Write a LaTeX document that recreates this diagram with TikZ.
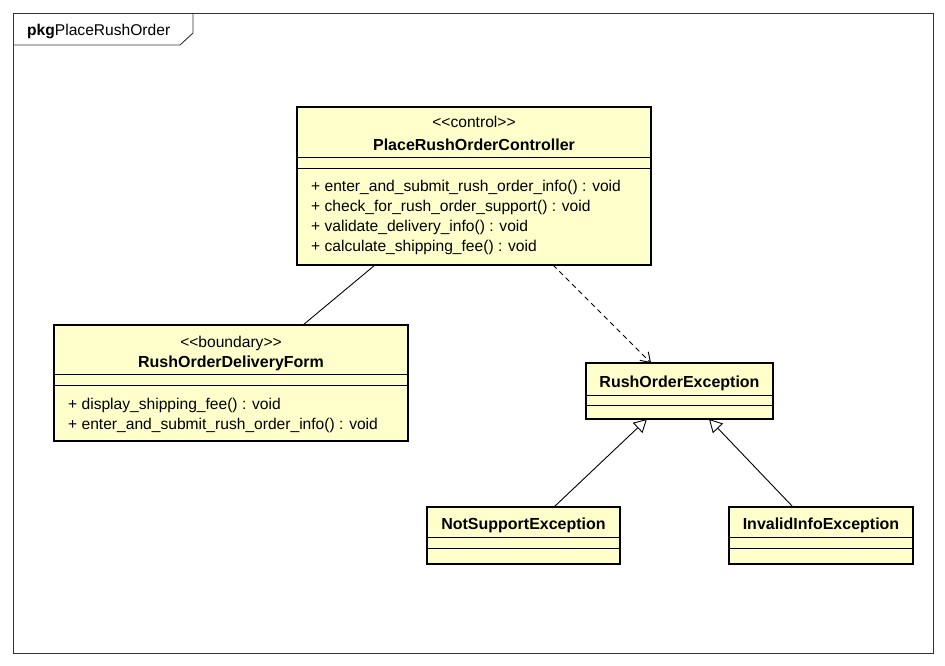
\documentclass[tikz,border=0pt]{standalone}
\usepackage{fontspec}
\setmainfont{Liberation Sans}
\usetikzlibrary{arrows.meta}
\definecolor{classfill}{HTML}{FFFFCC}
\definecolor{framecol}{HTML}{333333}
% guillemet-free stereotype brackets
\newcommand\stereo[1]{<\kern0pt<#1>\kern0pt>}

\begin{document}
\begin{tikzpicture}[x=1pt,y=-1pt,
  classbox/.style={draw=black, line width=2.9pt, fill=classfill, anchor=north west,
                   inner sep=0pt, outer sep=0pt},
  sepline/.style={line width=0.9pt},
  lbl/.style={inner sep=0pt, font=\fontsize{15.6}{18}\selectfont},
  classname/.style={inner sep=0pt, font=\fontsize{16}{19}\selectfont\bfseries, anchor=base},
  stereotype/.style={lbl, anchor=base},
  member/.style={lbl, anchor=base west},
  conn/.style={line width=0.9pt},
  assoc/.style={conn},
  depend/.style={conn, dash pattern=on 5pt off 4pt, -{Straight Barb[length=9pt,width=12pt]}},
  general/.style={conn, -{Triangle[open, fill=white, length=13pt, width=14pt]}},
]
\useasboundingbox (0,0) rectangle (945,666);

% package frame and its name tab
\draw[framecol, line width=0.9pt] (13,13) rectangle (933,653);
\draw[framecol, line width=0.9pt] (13,45) -- (180,45) -- (193,33) -- (193,13);
\node[lbl, anchor=base west] (pkg) at (27,36) {\textbf{pkg}PlaceRushOrder};

% control class
\node[classbox, minimum width=354pt, minimum height=158pt] (ctrl) at (297,107) {};
\draw[sepline] ([yshift=-50pt]ctrl.north west) -- ([yshift=-50pt]ctrl.north east);
\draw[sepline] ([yshift=-61pt]ctrl.north west) -- ([yshift=-61pt]ctrl.north east);
\node[stereotype] (ctrl-st) at (474,128) {\stereo{control}};
\node[classname] (ctrl-name) at (474,150) {PlaceRushOrderController};
\node[member] (ctrl-m1) at (311,191) {+ enter\_and\_submit\_rush\_order\_info() : void};
\node[member] (ctrl-m2) at (311,211) {+ check\_for\_rush\_order\_support() : void};
\node[member] (ctrl-m3) at (311,231) {+ validate\_delivery\_info() : void};
\node[member] (ctrl-m4) at (311,251) {+ calculate\_shipping\_fee() : void};

% boundary class
\node[classbox, minimum width=354pt, minimum height=116pt] (form) at (54,325) {};
\draw[sepline] ([yshift=-49pt]form.north west) -- ([yshift=-49pt]form.north east);
\draw[sepline] ([yshift=-60pt]form.north west) -- ([yshift=-60pt]form.north east);
\node[stereotype] (form-st) at (231,347) {\stereo{boundary}};
\node[classname] (form-name) at (231,367) {RushOrderDeliveryForm};
\node[member] (form-m1) at (68,409) {+ display\_shipping\_fee() : void};
\node[member] (form-m2) at (68,429) {+ enter\_and\_submit\_rush\_order\_info() : void};

% exception classes
\node[classbox, minimum width=187pt, minimum height=56pt] (roe) at (586,363) {};
\draw[sepline] ([yshift=-32pt]roe.north west) -- ([yshift=-32pt]roe.north east);
\draw[sepline] ([yshift=-42pt]roe.north west) -- ([yshift=-42pt]roe.north east);
\node[classname] (roe-name) at (679.5,387) {RushOrderException};

\node[classbox, minimum width=193pt, minimum height=57pt] (nse) at (427,507) {};
\draw[sepline] ([yshift=-30pt]nse.north west) -- ([yshift=-30pt]nse.north east);
\draw[sepline] ([yshift=-41pt]nse.north west) -- ([yshift=-41pt]nse.north east);
\node[classname] (nse-name) at (523.5,529) {NotSupportException};

\node[classbox, minimum width=184pt, minimum height=57pt] (iie) at (729,507) {};
\draw[sepline] ([yshift=-30pt]iie.north west) -- ([yshift=-30pt]iie.north east);
\draw[sepline] ([yshift=-41pt]iie.north west) -- ([yshift=-41pt]iie.north east);
\node[classname] (iie-name) at (821,529) {InvalidInfoException};

% relations
\draw[assoc] ([xshift=78pt]ctrl.south west) -- ([xshift=249pt]form.north west);
\draw[depend] ([xshift=256pt]ctrl.south west) -- ([xshift=65pt]roe.north west);
\draw[general] ([xshift=127pt]nse.north west) -- ([xshift=61pt]roe.south west);
\draw[general] ([xshift=64pt]iie.north west) -- ([xshift=123pt]roe.south west);
\end{tikzpicture}
\end{document}
